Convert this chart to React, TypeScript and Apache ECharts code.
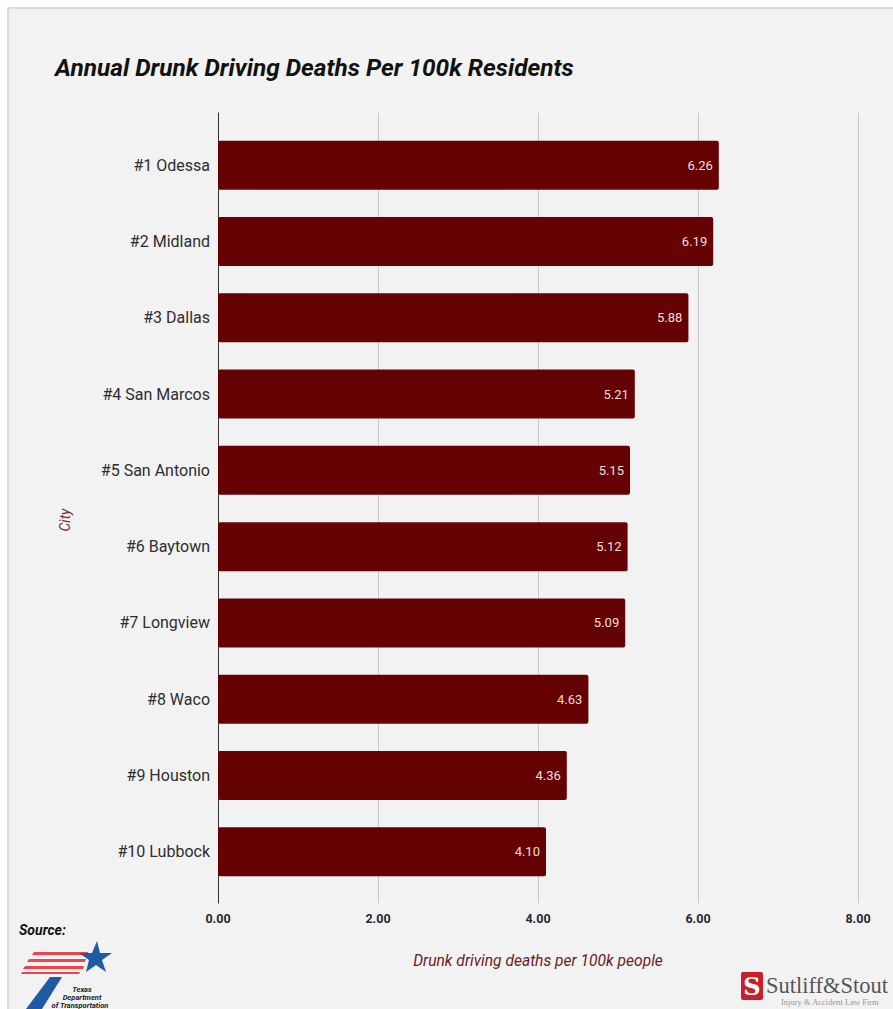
import React, { useEffect, useRef } from "react";
import * as echarts from "echarts";

const cities = [
  "#1 Odessa",
  "#2 Midland",
  "#3 Dallas",
  "#4 San Marcos",
  "#5 San Antonio",
  "#6 Baytown",
  "#7 Longview",
  "#8 Waco",
  "#9 Houston",
  "#10 Lubbock",
];
const deaths = [6.26, 6.19, 5.88, 5.21, 5.15, 5.12, 5.09, 4.63, 4.36, 4.1];
const xTicks = { min: 0, max: 8, interval: 2 };

const TITLE = "Annual Drunk Driving Deaths Per 100k Residents";
const X_NAME = "Drunk driving deaths per 100k people";
const Y_NAME = "City";

export default function App() {
  const ref = useRef<HTMLDivElement>(null);
  useEffect(() => {
    document.body.style.margin = "0";
    const chart = echarts.init(ref.current!, null, { renderer: "svg" });
    const font = "Roboto, 'Noto Sans', sans-serif";
    chart.setOption({
      animation: false,
      backgroundColor: "#ffffff",
      textStyle: { fontFamily: font },
      grid: [
        { left: 218, width: 640, top: 127, height: 763, containLabel: false },
        { left: 218, width: 640, top: 113, height: 790, containLabel: false },
      ],
      xAxis: [
        {
          gridIndex: 0,
          type: "value",
          min: xTicks.min,
          max: xTicks.max,
          interval: xTicks.interval,
          show: false,
        },
        {
          gridIndex: 1,
          type: "value",
          min: xTicks.min,
          max: xTicks.max,
          interval: xTicks.interval,
          axisLine: { show: false },
          axisTick: { show: false },
          splitLine: { show: true, lineStyle: { color: "#c8c8c8", width: 1 } },
          axisLabel: {
            formatter: (v: number) => v.toFixed(2),
            fontWeight: "bold",
            fontSize: 12.5,
            color: "#2a2a2a",
            margin: 9,
            fontFamily: font,
          },
          name: X_NAME,
          nameLocation: "middle",
          nameGap: 50,
          nameTextStyle: {
            fontStyle: "italic",
            fontSize: 15.6,
            color: "#6b1c22",
            fontFamily: font,
          },
        },
      ],
      yAxis: [
        {
          gridIndex: 0,
          type: "category",
          data: cities,
          inverse: true,
          axisLine: { show: false },
          axisTick: { show: false },
          splitLine: { show: false },
          axisLabel: { fontSize: 16, color: "#2e2e2e", margin: 8, fontFamily: font },
        },
        {
          gridIndex: 1,
          type: "value",
          min: 0,
          max: 1,
          axisLine: { show: true, lineStyle: { color: "#333", width: 1 } },
          axisTick: { show: false },
          axisLabel: { show: false },
          splitLine: { show: false },
        },
      ],
      series: [
        {
          type: "bar",
          xAxisIndex: 0,
          yAxisIndex: 0,
          data: deaths,
          barWidth: 49,
          itemStyle: { color: "#640204", borderRadius: 2 },
          label: {
            show: true,
            position: "insideRight",
            distance: 6,
            formatter: (p: any) => p.value.toFixed(2),
            color: "#f0dede",
            fontSize: 13,
            fontFamily: font,
          },
          z: 5,
        },
      ],
      graphic: [
        {
          type: "rect",
          z: -10,
          silent: true,
          shape: { x: 8, y: 8, width: 900, height: 1010 },
          style: { fill: "#f2f2f2", stroke: "#d4d4d4", lineWidth: 1.5 },
        },
        {
          type: "text",
          left: 55,
          top: 55,
          style: {
            text: TITLE,
            font: `italic bold 24.4px ${font}`,
            fill: "#111",
          },
        },
        {
          type: "text",
          x: 65,
          y: 520,
          rotation: Math.PI / 2,
          style: {
            text: Y_NAME,
            font: `italic 14px ${font}`,
            fill: "#7a2a30",
            align: "center",
            verticalAlign: "middle",
          },
        },
        {
          type: "text",
          left: 19,
          top: 923,
          style: { text: "Source:", font: `italic bold 14px ${font}`, fill: "#111" },
        },
        // TxDOT logo
        {
          type: "group",
          children: [
            { type: "polygon", shape: { points: [[34, 952], [88, 952], [87, 955], [32, 955]] }, style: { fill: "#e8474d" } },
            { type: "polygon", shape: { points: [[29, 959], [86, 959], [85, 962], [27, 962]] }, style: { fill: "#e8474d" } },
            { type: "polygon", shape: { points: [[25, 966], [84, 966], [83, 969], [23, 969]] }, style: { fill: "#e8474d" } },
            { type: "polygon", shape: { points: [[22, 972], [80, 972], [79, 974], [21, 974]] }, style: { fill: "#e8474d" } },
            {
              type: "polygon",
              shape: {
                points: [
                  [97, 941], [100, 953], [112, 953], [102, 960], [106, 972],
                  [96, 965], [86, 972], [89, 960], [79, 953], [92, 953],
                ],
              },
              style: { fill: "#1f5aa6" },
            },
            { type: "polygon", shape: { points: [[50, 977], [62, 977], [42, 1009], [26, 1009]] }, style: { fill: "#1f5aa6" } },
            { type: "text", x: 82, y: 989, style: { text: "Texas", font: `italic bold 7.5px ${font}`, fill: "#222", align: "center", verticalAlign: "middle" } },
            { type: "text", x: 82, y: 997, style: { text: "Department", font: `italic bold 7.5px ${font}`, fill: "#222", align: "center", verticalAlign: "middle" } },
            { type: "text", x: 80, y: 1005, style: { text: "of Transportation", font: `italic bold 7.5px ${font}`, fill: "#222", align: "center", verticalAlign: "middle" } },
          ],
        },
        // Sutliff & Stout logo
        {
          type: "group",
          children: [
            { type: "rect", shape: { x: 741, y: 972, width: 22, height: 28, r: 2 }, style: { fill: "#c8202a" } },
            { type: "text", x: 752, y: 986, style: { text: "S", font: `bold 24px 'DejaVu Serif', serif`, fill: "#ffffff", align: "center", verticalAlign: "middle" } },
            { type: "text", x: 766, y: 985, style: { text: "Sutliff&Stout", font: `22.5px 'Liberation Serif', serif`, fill: "#555", verticalAlign: "middle" } },
            { type: "text", x: 781, y: 1002, style: { text: "Injury & Accident Law Firm", font: `8.5px 'Liberation Serif', serif`, fill: "#999", verticalAlign: "middle" } },
          ],
        },
      ],
    });
    return () => chart.dispose();
  }, []);
  return (
    <div
      ref={ref}
      style={{ position: "absolute", left: 0, top: 0, width: 893, height: 1009 }}
    />
  );
}
